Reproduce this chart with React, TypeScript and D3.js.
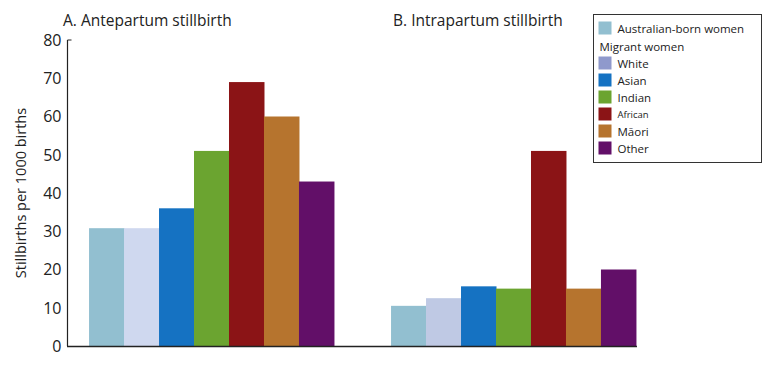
import { useEffect, useRef } from "react";
import * as d3 from "d3";

const panels = ["A. Antepartum stillbirth", "B. Intrapartum stillbirth"];
const groups = ["Australian-born women", "White", "Asian", "Indian", "African", "Māori", "Other"];
const antepartum = [30.8, 30.8, 36, 51, 69, 60, 43];
const intrapartum = [10.5, 12.5, 15.6, 15, 51, 15, 20];
const yTicks = [0, 10, 20, 30, 40, 50, 60, 70, 80];

const barColors = [
  ["#92bfd0", "#cfd8ef", "#1572c2", "#6ba430", "#8b1416", "#b6742e", "#620f68"],
  ["#92bfd0", "#bfc9e4", "#1572c2", "#6ba430", "#8b1416", "#b6742e", "#620f68"],
];
const legendColors = ["#92bfd0", "#8f99cc", "#1572c2", "#6ba430", "#8b1416", "#b6742e", "#620f68"];

export default function App() {
  const ref = useRef(null);

  useEffect(() => {
    d3.select(ref.current).selectAll("*").remove();
    const W = 764;
    const H = 373;
    const font = "'Open Sans', sans-serif";
    const ink = "#222";

    const svg = d3
      .select(ref.current)
      .append("svg")
      .attr("width", W)
      .attr("height", H)
      .style("display", "block")
      .style("font-family", font);

    const y = d3.scaleLinear().domain([0, 80]).range([346, 40]);

    // panels, then bars inside each panel
    const xPanel = d3
      .scaleBand()
      .domain(panels)
      .range([67, 658])
      .paddingInner(0.189)
      .paddingOuter(0.073);
    const xBar = d3.scaleBand().domain(groups).range([0, xPanel.bandwidth()]);

    const series = [antepartum, intrapartum];
    panels.forEach((p, pi) => {
      const g = svg.append("g").attr("transform", `translate(${xPanel(p)},0)`);
      g.selectAll("rect")
        .data(series[pi])
        .enter()
        .append("rect")
        .attr("x", (d, i) => xBar(groups[i]))
        .attr("width", xBar.bandwidth() + 0.5)
        .attr("y", (d) => y(d))
        .attr("height", (d) => y(0) - y(d) + 1)
        .attr("fill", (d, i) => barColors[pi][i]);

      svg
        .append("text")
        .attr("x", xPanel(p) - 26 + (pi === 1 ? 28 : 0))
        .attr("y", 26)
        .attr("font-size", 15.5)
        .attr("fill", ink)
        .text(p);
    });

    // y axis
    const yAxis = svg.append("g").attr("transform", "translate(67.5,0)");
    yAxis
      .append("line")
      .attr("y1", y(80))
      .attr("y2", y(0))
      .attr("stroke", ink)
      .attr("stroke-width", 1.2);
    yAxis
      .append("line")
      .attr("x2", 4)
      .attr("y1", y(80))
      .attr("y2", y(80))
      .attr("stroke", ink)
      .attr("stroke-width", 1);
    yAxis
      .selectAll("text")
      .data(yTicks)
      .enter()
      .append("text")
      .attr("x", -6)
      .attr("y", (d) => y(d))
      .attr("dy", "0.36em")
      .attr("text-anchor", "end")
      .attr("font-size", 16)
      .attr("fill", ink)
      .text((d) => d);

    svg
      .append("text")
      .attr("transform", `translate(26,${(y(0) + y(80)) / 2}) rotate(-90)`)
      .attr("text-anchor", "middle")
      .attr("font-size", 14.5)
      .attr("fill", ink)
      .text("Stillbirths per 1000 births");

    // x axis line
    const lastBand = xPanel(panels[1]) + xPanel.bandwidth();
    svg
      .append("line")
      .attr("x1", 67)
      .attr("x2", lastBand + 1)
      .attr("y1", y(0) + 0.5)
      .attr("y2", y(0) + 0.5)
      .attr("stroke", ink)
      .attr("stroke-width", 1.6);

    // legend
    const lg = svg.append("g").attr("transform", "translate(593.5,14.5)");
    lg.append("rect")
      .attr("width", 168)
      .attr("height", 148)
      .attr("fill", "#fff")
      .attr("stroke", "#333")
      .attr("stroke-width", 1);
    const rowY = [14, 32, 49, 66, 83, 100, 117, 134];
    const entries = [
      { label: groups[0], color: legendColors[0] },
      { label: "Migrant women", color: null },
      ...groups.slice(1).map((g, i) => ({ label: g, color: legendColors[i + 1] })),
    ];
    entries.forEach((e, i) => {
      const row = lg.append("g").attr("transform", `translate(0,${rowY[i]})`);
      if (e.color) {
        row.append("rect").attr("x", 5).attr("y", -7).attr("width", 13).attr("height", 13).attr("fill", e.color);
      }
      row
        .append("text")
        .attr("x", e.color ? 24 : 6)
        .attr("y", 0)
        .attr("dy", "0.35em")
        .attr("font-size", e.label === "African" ? 9.5 : 11.5)
        .attr("fill", ink)
        .text(e.label);
    });
  }, []);

  return <div ref={ref} style={{ position: "absolute", left: 0, top: 0 }}></div>;
}
